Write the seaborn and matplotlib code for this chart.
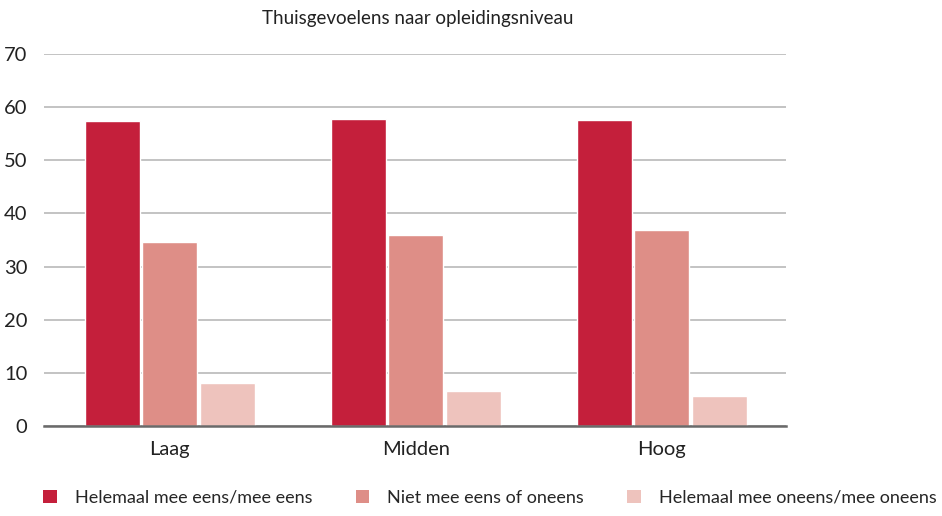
import matplotlib
matplotlib.use("Agg")
import matplotlib.pyplot as plt
import pandas as pd
import seaborn as sns
from matplotlib.patches import Patch

# data
niveaus = ["Laag", "Midden", "Hoog"]
series = ["Helemaal mee eens/mee eens", "Niet mee eens of oneens", "Helemaal mee oneens/mee oneens"]
eens = [57.4, 57.7, 57.5]
neutraal = [34.7, 35.9, 36.8]
oneens = [8.1, 6.6, 5.6]
colors = ["#C41F3B", "#DE8E87", "#EEC3BD"]

df = pd.DataFrame({
    "niveau": niveaus * 3,
    "antwoord": [s for s in series for _ in niveaus],
    "pct": eens + neutraal + oneens,
})

sns.set_theme(style="white")
plt.rcParams["font.family"] = ["Lato", "DejaVu Sans"]

fig = plt.figure(figsize=(9.42, 5.16), dpi=100)
ax = fig.add_axes([0.0467, 0.1744, 0.7873, 0.7209])

sns.barplot(data=df, x="niveau", y="pct", hue="antwoord", hue_order=series,
            palette=colors, width=0.7, gap=0.04, saturation=1, ax=ax, legend=False)

ax.set_ylim(0, 70)
ax.set_xlim(-0.512, 2.504)
ax.set_yticks(range(0, 71, 10))
ax.yaxis.grid(True, color="#c3c3c3", linewidth=1.4)
ax.set_axisbelow(True)
for s in ["top", "right", "left"]:
    ax.spines[s].set_visible(False)
ax.spines["bottom"].set_color("#6a6a6a")
ax.spines["bottom"].set_linewidth(1.8)
ax.tick_params(axis="y", length=0, pad=12, labelsize=14.5, colors="#222222")
ax.tick_params(axis="x", length=0, pad=11, labelsize=14.5, colors="#222222")
ax.set_xlabel("")
ax.set_ylabel("")

fig.text(0.443, 0.965, "Thuisgevoelens naar opleidingsniveau", ha="center", va="center",
         fontsize=13.5, color="#222222")

handles = [Patch(facecolor=c, edgecolor="none") for c in colors]
fig.legend(handles, series, loc="center", bbox_to_anchor=(0.52, 0.035), ncol=3,
           frameon=False, fontsize=13, handlelength=0.75, handleheight=0.75,
           handletextpad=1.0, columnspacing=2.4)

fig.savefig("out.png", dpi=100)
